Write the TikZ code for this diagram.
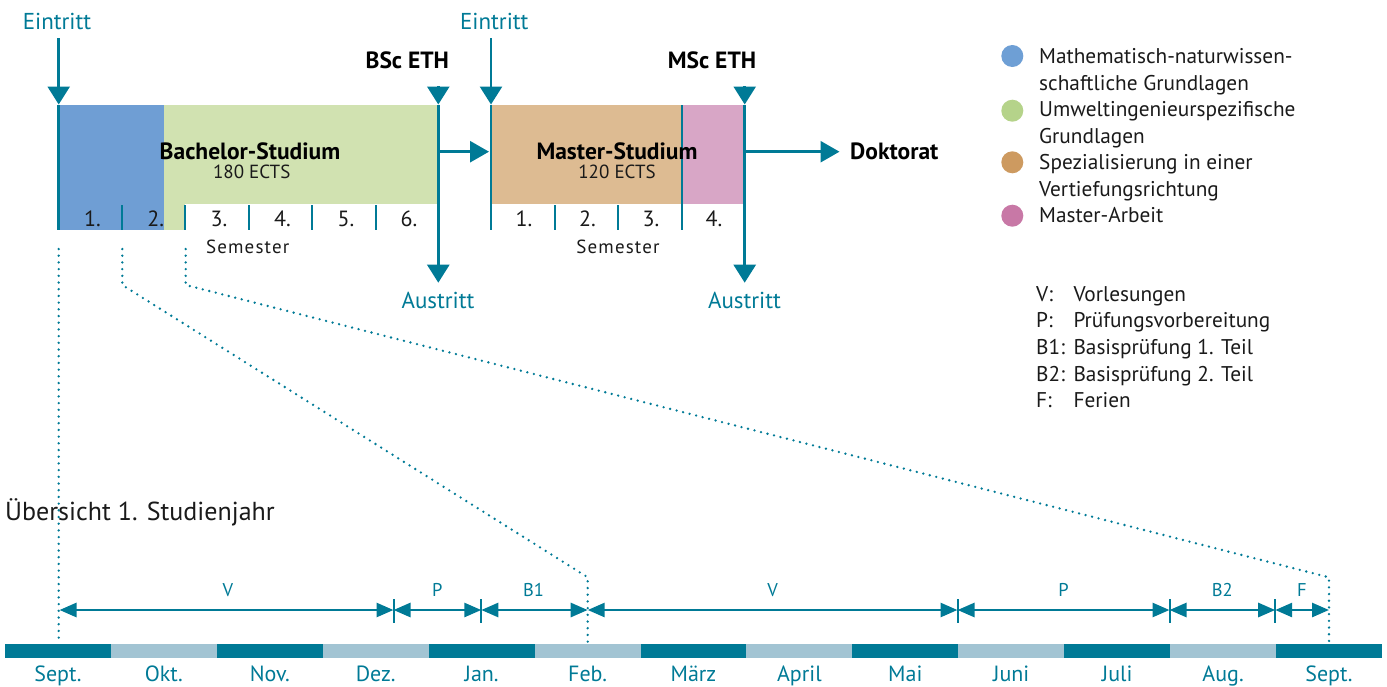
\documentclass[tikz,border=0pt]{standalone}
\usepackage{fontspec}
\setmainfont{PT Sans}
\usetikzlibrary{arrows.meta}
\definecolor{tealc}{HTML}{007A96}
\definecolor{teallight}{HTML}{A2C4D3}
\definecolor{bluebox}{HTML}{6F9ED4}
\definecolor{greenbox}{HTML}{D1E2B1}
\definecolor{tanbox}{HTML}{DDBB92}
\definecolor{pinkbox}{HTML}{D8A6C6}
\definecolor{bluedot}{HTML}{6E9FD5}
\definecolor{greendot}{HTML}{B5D38A}
\definecolor{tandot}{HTML}{CD9A60}
\definecolor{pinkdot}{HTML}{C878A6}
\definecolor{txt}{HTML}{1A1A1A}
\tikzset{
  bigarrow/.style={draw=tealc,line width=2.7pt,-{Triangle[length=18pt,width=22pt]}},
  mainline/.style={draw=tealc,line width=2.7pt},
  semtick/.style={draw=tealc,line width=2pt},
  dotline/.style={draw=tealc,line width=2.6pt,line cap=round,dash pattern=on 0pt off 6.7pt},
  tlarrow/.style={draw=tealc,line width=2.7pt,{Triangle[length=17pt,width=14pt]}-{Triangle[length=17pt,width=14pt]}},
  tltick/.style={draw=tealc,line width=2pt},
  tealtxt/.style={text=tealc,font=\fontsize{23}{27}\selectfont,inner sep=0pt,anchor=base},
  boldtxt/.style={text=black,font=\fontsize{23.5}{27}\selectfont\bfseries,inner sep=0pt,anchor=base},
  smalltxt/.style={text=txt,font=\fontsize{19}{22}\selectfont,inner sep=0pt,anchor=base},
  semtxt/.style={text=txt,font=\fontsize{19}{22}\selectfont\addfontfeatures{LetterSpace=6},inner sep=0pt,anchor=base},
  numtxt/.style={text=txt,font=\fontsize{22}{25}\selectfont,inner sep=0pt,anchor=base},
  legtxt/.style={text=txt,font=\fontsize{21.3}{24}\selectfont,inner sep=0pt,anchor=base west},
  tllabel/.style={text=tealc,font=\fontsize{18.5}{22}\selectfont,inner sep=0pt,anchor=base},
  monthtxt/.style={text=tealc,font=\fontsize{22}{24}\selectfont,inner sep=0pt,anchor=base},
}
\begin{document}
\begin{tikzpicture}[x=1pt,y=-1pt]
\useasboundingbox (0,0) rectangle (1387,686);

% ---- Bachelor box
\fill[bluebox] (58.7,105.3) rectangle (164,230);
\fill[greenbox] (164,105.3) rectangle (438.3,204.3);
\fill[greenbox] (164,204.3) rectangle (185,230);
% ---- Master box
\fill[tanbox] (491,105.3) rectangle (681.7,204.3);
\fill[pinkbox] (681.7,105.3) rectangle (744.7,204.3);

% coordinates
\coordinate (e1top) at (58.7,38);
\coordinate (e1tip) at (58.7,104.5);
\coordinate (e1bot) at (58.7,230);
\coordinate (b1top) at (438.3,86);
\coordinate (b1tip) at (438.3,104.5);
\coordinate (b1out) at (438.3,282.7);
\coordinate (e2top) at (491,38);
\coordinate (e2tip) at (491,104.5);
\coordinate (e2bot) at (491,230);
\coordinate (m1top) at (744.7,86);
\coordinate (m1tip) at (744.7,104.5);
\coordinate (m1out) at (744.7,282.7);
\coordinate (bm1) at (438.3,151.7);
\coordinate (bm2) at (489,151.7);
\coordinate (md1) at (744.7,151.7);
\coordinate (md2) at (839.5,151.7);

\draw[bigarrow] (e1top) -- (e1tip);
\draw[mainline] (e1tip) -- (e1bot);
\draw[bigarrow] (b1top) -- (b1tip);
\draw[bigarrow] (b1tip) -- (b1out);
\draw[bigarrow] (e2top) -- (e2tip);
\draw[mainline] (e2tip) -- (e2bot);
\draw[bigarrow] (m1top) -- (m1tip);
\draw[bigarrow] (m1tip) -- (m1out);
\draw[bigarrow,-{Triangle[length=19pt,width=21pt]}] (bm1) -- (bm2);
\draw[bigarrow,-{Triangle[length=19pt,width=21pt]}] (md1) -- (md2);

% semester ticks
\foreach \x in {122.3,185,249,312.3,376,554.7,618}
  \draw[semtick] (\x,205) -- (\x,230);
\draw[draw=tealc,line width=1.6pt] (681.7,105.3) -- (681.7,230);

% top texts
\node[tealtxt] (eintritt1) at (57,29.3) {Eintritt};
\node[tealtxt] (eintritt2) at (494.3,29.3) {Eintritt};
\node[tealtxt] (austritt1) at (438,308.3) {Austritt};
\node[tealtxt] (austritt2) at (744.5,308.3) {Austritt};
\node[boldtxt] (bsc) at (407.3,68.3) {BSc ETH};
\node[boldtxt] (msc) at (712,68.3) {MSc ETH};
\node[boldtxt,anchor=base west] (dok) at (850,159.3) {Doktorat};
\node[boldtxt] (bach) at (250,159.3) {Bachelor-Studium};
\node[smalltxt] (bects) at (251.7,178.3) {180 ECTS};
\node[boldtxt] (mast) at (617,159.3) {Master-Studium};
\node[smalltxt] (mects) at (617,178.3) {120 ECTS};
\node[semtxt] (sem1) at (247.7,253.3) {Semester};
\node[semtxt] (sem2) at (618,253.3) {Semester};

% semester numbers
\foreach \x/\t [count=\i] in {92.5/1.,155.7/2.,219/3.,282.5/4.,346/5.,409/6.,524/1.,587.4/2.,651/3.,714/4.}
  \node[numtxt] (sn\i) at (\x,226.7) {\t};

% legend
\fill[bluedot] (1012.3,56) circle (11);
\fill[greendot] (1012.3,110.7) circle (11);
\fill[tandot] (1012.3,162.3) circle (11);
\fill[pinkdot] (1012.3,215.7) circle (11);
\node[legtxt] (l1) at (1039,63.3) {Mathematisch-naturwissen-};
\node[legtxt] (l2) at (1039,90) {schaftliche Grundlagen};
\node[legtxt] (l3) at (1039,116.5) {Umweltingenieurspezifische};
\node[legtxt] (l4) at (1039,143) {Grundlagen};
\node[legtxt] (l5) at (1039,169.7) {Spezialisierung in einer};
\node[legtxt] (l6) at (1039,196.3) {Vertiefungsrichtung};
\node[legtxt] (l7) at (1039,222.7) {Master-Arbeit};

\foreach \a/\b/\y [count=\i] in {V:/Vorlesungen/301.7,P:/Prüfungsvorbereitung/327.7,B1:/Basisprüfung 1. Teil/354.5,B2:/Basisprüfung 2. Teil/381.2,F:/Ferien/407.3}{
  \node[legtxt] (ka\i) at (1036,\y) {\a};
  \node[legtxt] (kb\i) at (1073.3,\y) {\b};
}

% Uebersicht
\node[text=txt,font=\fontsize{26}{30}\selectfont,inner sep=0pt,anchor=base west] (ueb) at (5,520) {Übersicht 1. Studienjahr};

% dotted lines
\draw[dotline] (58.7,249) -- (58.7,644);
\draw[dotline] (122.3,249) -- (122.3,285) -- (587.7,577.3) -- (587.7,644);
\draw[dotline] (185.7,249) -- (185.7,285) -- (1329,577.3) -- (1329,644);

% month bar
\foreach \m [count=\i from 0] in {Sept.,Okt.,Nov.,Dez.,Jan.,Feb.,März,April,Mai,Juni,Juli,Aug.,Sept.}{
  \pgfmathsetmacro{\xa}{5+\i*105.92}
  \pgfmathsetmacro{\xb}{5+(\i+1)*105.92}
  \pgfmathsetmacro{\xc}{5+(\i+0.5)*105.92}
  \pgfmathparse{mod(\i,2)==0 ? 1 : 0}
  \ifnum\pgfmathresult=1
    \fill[tealc] (\xa,644.3) rectangle (\xb,657.5);
  \else
    \fill[teallight] (\xa,644.3) rectangle (\xb,657.5);
  \fi
  \node[monthtxt] (mo\i) at (\xc,681) {\m};
}

% timeline arrows
\coordinate (t0) at (59.5,610);
\coordinate (t1) at (393.5,610);
\coordinate (t2) at (481.3,610);
\coordinate (t3) at (587.7,610);
\coordinate (t4) at (957.5,610);
\coordinate (t5) at (1169.5,610);
\coordinate (t6) at (1275.2,610);
\coordinate (t7) at (1329,610);
\draw[tlarrow] (t0) -- (t1);
\draw[tlarrow] (t1) -- (t2);
\draw[tlarrow] (t2) -- (t3);
\draw[tlarrow] (t3) -- (t4);
\draw[tlarrow] (t4) -- (t5);
\draw[tlarrow] (t5) -- (t6);
\draw[tlarrow] (t6) -- (t7);
\foreach \x in {393.5,481.3,957.5,1169.5,1275.2}
  \draw[tltick] (\x,599) -- (\x,623);

\node[tllabel] (lv1) at (228,596) {V};
\node[tllabel] (lp1) at (437.3,596) {P};
\node[tllabel] (lb1) at (533.5,596) {B1};
\node[tllabel] (lv2) at (772.5,596) {V};
\node[tllabel] (lp2) at (1063.5,596) {P};
\node[tllabel] (lb2) at (1222.3,596) {B2};
\node[tllabel] (lf) at (1302,596) {F};
\end{tikzpicture}
\end{document}
